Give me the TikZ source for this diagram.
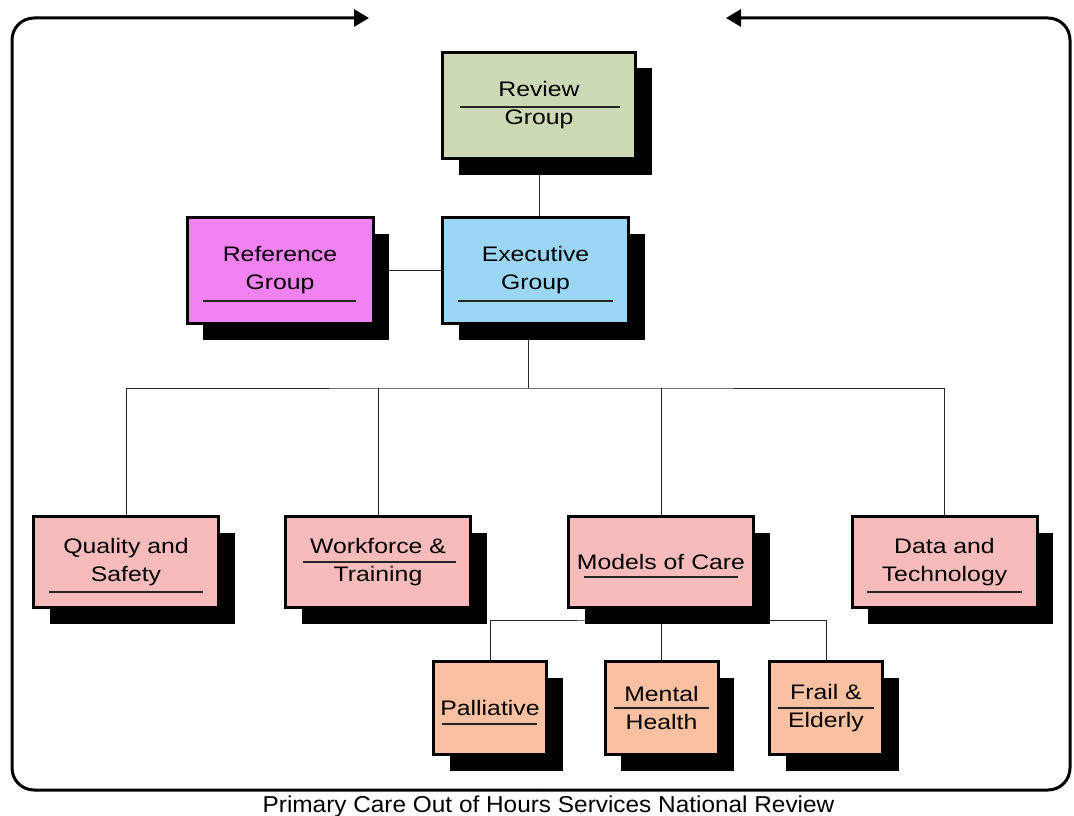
\documentclass[tikz,border=0pt]{standalone}
\usepackage{fontspec}
\setmainfont{Liberation Sans}[FakeStretch=1.18]
\newfontfamily\capfont{Liberation Sans}[FakeStretch=1.06]
\usetikzlibrary{arrows.meta,positioning,calc,backgrounds,shadows}
\definecolor{rvgreen}{HTML}{CBDAB4}
\definecolor{rfpink}{HTML}{F282F2}
\definecolor{exblue}{HTML}{9CD6F5}
\definecolor{wgpink}{HTML}{F8BBBB}
\definecolor{sgsalmon}{HTML}{F9C0A2}
\tikzset{
  grpbox/.style={draw=black, line width=3pt, align=center, inner sep=2pt,
    font=\fontsize{21}{28}\selectfont,
    drop shadow={shadow xshift=16pt, shadow yshift=-16pt, fill=black, opacity=1}},
  topbox/.style={grpbox, minimum width=186pt, minimum height=106pt},
  wgbox/.style={grpbox, fill=wgpink, minimum width=185pt, minimum height=91pt},
  subbox/.style={grpbox, fill=sgsalmon, minimum width=113pt, minimum height=93pt},
  link/.style={draw=black!85, line width=0.9pt},
  uline/.style={draw=black!85, line width=1.5pt},
  frame/.style={draw=black, line width=3pt, rounded corners=22pt,
    -{Triangle[length=15pt,width=17pt]}}
}
\begin{document}
\begin{tikzpicture}[x=1pt,y=-1pt]
  \useasboundingbox (0,0) rectangle (1074,816);
  % outer loop
  \coordinate (fbot) at (540,790);
  \coordinate (ltip) at (369,18);
  \coordinate (rtip) at (726,18);
  \draw[frame] (fbot) -- (12,790) -- (12,18) -- (ltip);
  \draw[frame] (fbot) -- (1070,790) -- (1070,18) -- (rtip);
  % groups
  \node[topbox, fill=rvgreen, minimum width=193pt] (rev) at (539,105.5) {Review\\Group};
  \node[topbox, fill=rfpink] (ref) at (280,270.5) {Reference\\Group};
  \node[topbox, fill=exblue] (exe) at (535.5,270.5) {Executive\\Group};
  \node[wgbox] (qs) at (126,562) {Quality and\\Safety};
  \node[wgbox] (wt) at (378,562) {Workforce \&\\Training};
  \node[wgbox] (mod) at (661,562) {Models of Care};
  \node[wgbox] (dt) at (944.5,562) {Data and\\Technology};
  \node[subbox] (pal) at (490,708) {Palliative};
  \node[subbox] (mh) at (661.5,708) {Mental\\Health};
  \node[subbox] (fe) at (826,708) {Frail \&\\Elderly};
  % underlines
  \draw[uline] (460,107) -- (620,107);
  \draw[uline] (203,301) -- (356,301);
  \draw[uline] (458,301) -- (613,301);
  \draw[uline] (49,592) -- (203,592);
  \draw[uline] (303,562) -- (456,562);
  \draw[uline] (584,577) -- (738,577);
  \draw[uline] (867,592) -- (1022,592);
  \draw[uline] (442,724) -- (537,724);
  \draw[uline] (614,708) -- (709,708);
  \draw[uline] (778,708) -- (874,708);
  % connectors
  \coordinate (hub) at (528,388);
  \coordinate (mhub) at (661.5,620);
  \begin{scope}[on background layer]
    \draw[link] (rev.south) -- (rev.south |- exe.north);
    \draw[link] (ref.east) -- (exe.west);
    \draw[link] (hub |- exe.south) -- (hub);
    \draw[link] (qs.north) |- (hub) -| (dt.north);
    \draw[link] (wt.north) -- (wt.north |- hub);
    \draw[link] (mod.north) -- (mod.north |- hub);
    \draw[link] (mh.north |- mod.south) -- (mh.north);
    \draw[link] (pal.north) |- (mhub) -| (fe.north);
  \end{scope}
  \node[font=\capfont\fontsize{23}{28}\selectfont, anchor=base] (cap) at (548.5,812)
    {Primary Care Out of Hours Services National Review};
\end{tikzpicture}
\end{document}
